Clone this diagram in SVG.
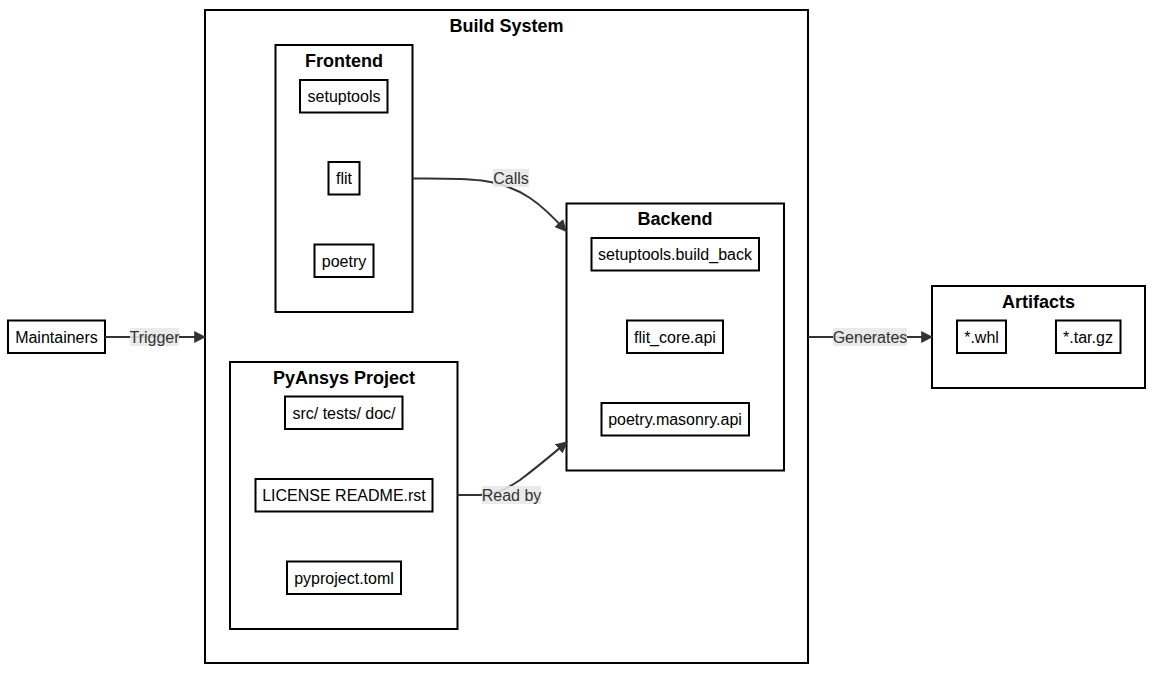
<svg xmlns="http://www.w3.org/2000/svg" width="1161" height="674" viewBox="0 0 1161 674">
<style>
.cl{fill:#fff;stroke:#000;stroke-width:2}
.nd{fill:#fff;stroke:#000;stroke-width:2}
.t{font-family:"Liberation Sans",Arial,sans-serif;font-size:16px;fill:#000;text-anchor:middle;dominant-baseline:central}
.tt{font-family:"Liberation Sans",Arial,sans-serif;font-size:18px;font-weight:bold;fill:#000;text-anchor:middle;dominant-baseline:central}
.e{fill:none;stroke:#333;stroke-width:2}
.lb{fill:#e8e8e8;opacity:0.9}
.lt{font-family:"Liberation Sans",Arial,sans-serif;font-size:16px;fill:#333;text-anchor:middle;dominant-baseline:central}
</style>
<defs>
<marker id="arr" viewBox="0 0 10 10" refX="9" refY="5" markerWidth="12" markerHeight="12" markerUnits="userSpaceOnUse" orient="auto">
<path d="M0,0 L10,5 L0,10 z" fill="#333"/>
</marker>
</defs>
<rect width="1161" height="674" fill="#fff"/>
<g id="build-system">
<rect class="cl" x="205" y="10" width="603" height="653"/>
<text class="tt" x="506.5" y="26">Build System</text>
</g>
<g id="frontend">
<rect class="cl" x="275.5" y="45" width="137" height="267"/>
<text class="tt" x="344" y="61">Frontend</text>
</g>
<g id="pyansys">
<rect class="cl" x="230" y="362" width="227.5" height="267"/>
<text class="tt" x="344" y="378">PyAnsys Project</text>
</g>
<g id="backend">
<rect class="cl" x="566.5" y="203.5" width="217.5" height="267"/>
<text class="tt" x="675" y="219">Backend</text>
</g>
<g id="artifacts">
<rect class="cl" x="932" y="286" width="213" height="102"/>
<text class="tt" x="1038.5" y="302">Artifacts</text>
</g>
<g id="maintainers"><rect class="nd" x="8" y="320.5" width="97" height="32.5"/><text class="t" x="56.5" y="337">Maintainers</text></g>
<g id="setuptools"><rect class="nd" x="300" y="80" width="87.5" height="32.5"/><text class="t" x="344" y="96">setuptools</text></g>
<g id="flit"><rect class="nd" x="328.5" y="162" width="31" height="32.5"/><text class="t" x="344" y="178">flit</text></g>
<g id="poetry"><rect class="nd" x="314.5" y="244.5" width="59" height="32.5"/><text class="t" x="344" y="261">poetry</text></g>
<g id="src"><rect class="nd" x="285" y="396.5" width="117.5" height="32.5"/><text class="t" x="344" y="413">src/ tests/ doc/</text></g>
<g id="license"><rect class="nd" x="255.5" y="479" width="177" height="32.5"/><text class="t" x="344" y="495">LICENSE README.rst</text></g>
<g id="pyproject"><rect class="nd" x="287" y="561.5" width="114" height="32.5"/><text class="t" x="344" y="578">pyproject.toml</text></g>
<g id="sbb"><rect class="nd" x="591.5" y="238" width="167.5" height="32.5"/><text class="t" x="675" y="254">setuptools.build_back</text></g>
<g id="flitcore"><rect class="nd" x="627" y="320.5" width="96" height="32.5"/><text class="t" x="675" y="337">flit_core.api</text></g>
<g id="poetrym"><rect class="nd" x="601.5" y="403" width="147.5" height="32.5"/><text class="t" x="675" y="419">poetry.masonry.api</text></g>
<g id="whl"><rect class="nd" x="957" y="320.5" width="49" height="32.5"/><text class="t" x="981.5" y="337">*.whl</text></g>
<g id="targz"><rect class="nd" x="1056" y="320.5" width="64.5" height="32.5"/><text class="t" x="1088" y="337">*.tar.gz</text></g>
<g id="connectors">
<path class="e" d="M105,337 L205,337" marker-end="url(#arr)"/>
<path class="e" d="M412.5,178.5 C470,178 500,178 530,198 C545,208 556,220 566,231" marker-end="url(#arr)"/>
<path class="e" d="M457.5,495 L478,495 C495,495 505,490 520,480 C540,465 555,452 567,442" marker-end="url(#arr)"/>
<path class="e" d="M808,337 L932,337" marker-end="url(#arr)"/>
<rect class="lb" x="130" y="328" width="49" height="18"/><text class="lt" x="154.5" y="337">Trigger</text>
<rect class="lb" x="493" y="169" width="36" height="18"/><text class="lt" x="511" y="178">Calls</text>
<rect class="lb" x="482" y="486" width="59" height="18"/><text class="lt" x="511.5" y="495">Read by</text>
<rect class="lb" x="833" y="328" width="74" height="18"/><text class="lt" x="870" y="337">Generates</text>
</g>
</svg>
